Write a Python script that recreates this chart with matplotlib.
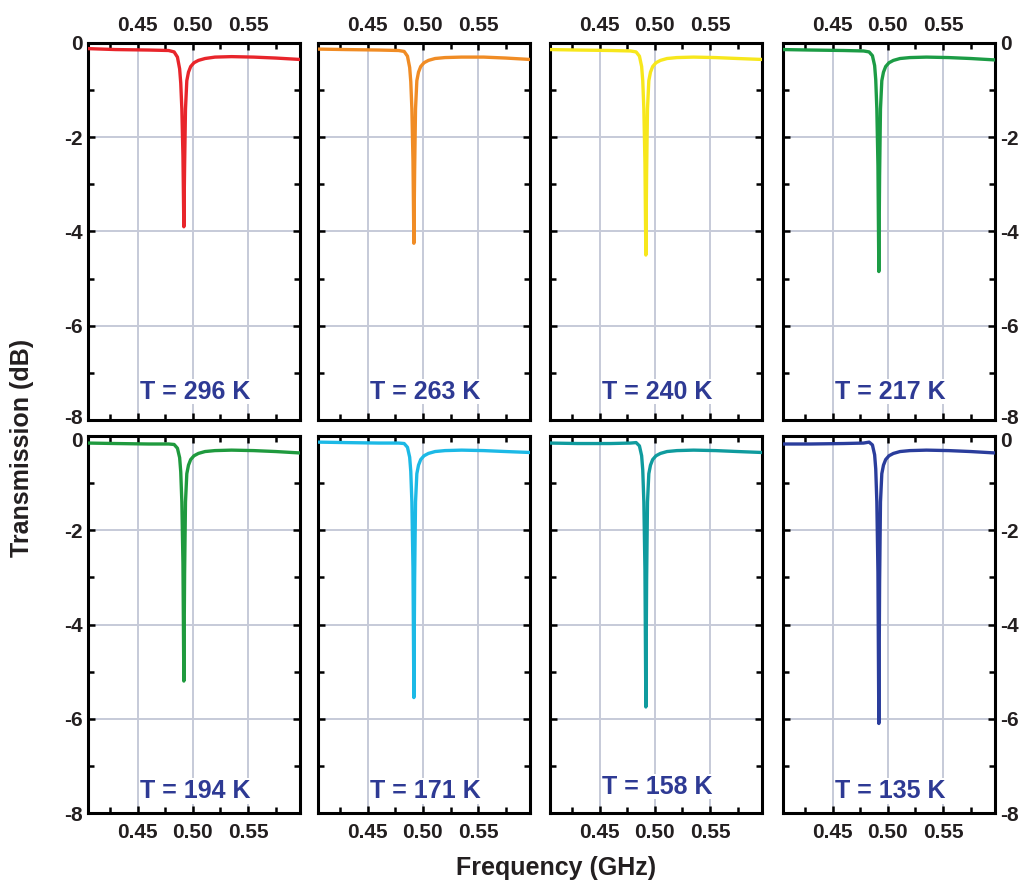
import numpy as np
import matplotlib
matplotlib.use("Agg")
import matplotlib.pyplot as plt
import matplotlib.transforms as mtransforms
from matplotlib.ticker import MultipleLocator

plt.rcParams['font.family'] = ['Liberation Sans', 'DejaVu Sans']
plt.rcParams['font.weight'] = 'bold'

# frequency grid (GHz) shared by all panels
freq = [0.405, 0.430, 0.460, 0.478, 0.483, 0.486, 0.488, 0.489, 0.490, 0.491,
        0.4918, 0.4925, 0.4933, 0.4945, 0.496, 0.498, 0.501, 0.505, 0.511,
        0.520, 0.535, 0.555, 0.575, 0.597]

# transmission (dB)
t296 = [-0.12, -0.14, -0.15, -0.16, -0.19, -0.30, -0.55, -0.85, -1.40, -2.40,
        -3.90, -2.60, -1.40, -0.80, -0.62, -0.50, -0.42, -0.37, -0.33, -0.30,
        -0.29, -0.30, -0.32, -0.35]
t263 = [-0.13, -0.14, -0.15, -0.16, -0.18, -0.28, -0.52, -0.82, -1.40, -2.50,
        -4.25, -2.70, -1.40, -0.80, -0.62, -0.50, -0.42, -0.37, -0.33, -0.31,
        -0.30, -0.30, -0.32, -0.35]
t240 = [-0.14, -0.15, -0.16, -0.17, -0.19, -0.28, -0.50, -0.80, -1.40, -2.55,
        -4.50, -2.75, -1.40, -0.80, -0.62, -0.50, -0.42, -0.37, -0.33, -0.31,
        -0.30, -0.31, -0.33, -0.35]
t217 = [-0.14, -0.15, -0.16, -0.17, -0.19, -0.27, -0.48, -0.78, -1.40, -2.60,
        -4.85, -2.80, -1.40, -0.80, -0.62, -0.50, -0.42, -0.37, -0.33, -0.31,
        -0.30, -0.31, -0.33, -0.36]
t194 = [-0.15, -0.16, -0.17, -0.17, -0.18, -0.26, -0.46, -0.76, -1.40, -2.70,
        -5.20, -2.90, -1.40, -0.80, -0.62, -0.50, -0.42, -0.37, -0.33, -0.31,
        -0.30, -0.31, -0.33, -0.36]
t171 = [-0.13, -0.14, -0.15, -0.15, -0.16, -0.24, -0.45, -0.75, -1.40, -2.80,
        -5.55, -3.00, -1.40, -0.80, -0.62, -0.50, -0.42, -0.37, -0.33, -0.31,
        -0.30, -0.31, -0.33, -0.35]
t158 = [-0.15, -0.16, -0.16, -0.15, -0.14, -0.21, -0.42, -0.72, -1.40, -2.85,
        -5.75, -3.05, -1.40, -0.80, -0.62, -0.50, -0.42, -0.37, -0.33, -0.31,
        -0.30, -0.31, -0.33, -0.35]
t135 = [-0.17, -0.17, -0.16, -0.15, -0.13, -0.19, -0.40, -0.70, -1.40, -2.90,
        -6.10, -3.10, -1.40, -0.80, -0.62, -0.50, -0.42, -0.37, -0.33, -0.31,
        -0.30, -0.31, -0.33, -0.36]

temps = [296, 263, 240, 217, 194, 171, 158, 135]
series = [t296, t263, t240, t217, t194, t171, t158, t135]
colors = ['#e8252b', '#f08c25', '#f7e71c', '#1c9c45',
          '#1f9a3e', '#1cb9e6', '#0f9b9e', '#2a3d9c']
xticks = [0.45, 0.50, 0.55]
yticks = [-8, -6, -4, -2, 0]

fig = plt.figure(figsize=(10.21, 8.84), dpi=100)

lefts = [0.0862, 0.3115, 0.5387, 0.7669]
bottoms = [0.5249, 0.0803]
label_y = [0.075, 0.058]
w, h = 0.2076, 0.4265

for i, (T, y, c) in enumerate(zip(temps, series, colors)):
    row, col = divmod(i, 4)
    ax = fig.add_axes([lefts[col], bottoms[row], w, h])
    ax.plot(freq, y, color=c, lw=2.4, solid_joinstyle='round', zorder=3)
    ax.set_xlim(0.405, 0.597)
    ax.set_ylim(-8, 0)
    ax.set_xticks(xticks)
    ax.set_xticklabels(['%.2f' % v for v in xticks])
    ax.set_yticks(yticks)
    ax.set_yticklabels([str(v) for v in yticks])
    ax.xaxis.set_minor_locator(MultipleLocator(0.025))
    ax.yaxis.set_minor_locator(MultipleLocator(1))
    ax.grid(True, which='major', color='#c6cad8', lw=1.4, zorder=0)
    for s in ax.spines.values():
        s.set_linewidth(2.2)
    ax.tick_params(which='both', direction='in', top=True, right=True,
                   width=1.8, length=5, labelsize=15, labelcolor='#231f20',
                   labelbottom=(row == 1), labeltop=(row == 0),
                   labelleft=(col == 0), labelright=(col == 3))
    ax.tick_params(axis='x', pad=6 if row == 0 else 7)
    ax.tick_params(axis='y', pad=4)
    ax.tick_params(which='minor', length=4)
    for lab in ax.get_xticklabels() + ax.get_yticklabels():
        lab.set_fontweight('bold')

    # keep the "-8" of the top row and the "0" of the bottom row apart
    if row == 0:
        shift = mtransforms.ScaledTranslation(0, 2.5 / 72, fig.dpi_scale_trans)
        for tk in ax.yaxis.get_major_ticks():
            if tk.get_loc() == -8:
                tk.label1.set_transform(tk.label1.get_transform() + shift)
                tk.label2.set_transform(tk.label2.get_transform() + shift)
    else:
        shift = mtransforms.ScaledTranslation(0, -2.5 / 72, fig.dpi_scale_trans)
        for tk in ax.yaxis.get_major_ticks():
            if tk.get_loc() == 0:
                tk.label1.set_transform(tk.label1.get_transform() + shift)
                tk.label2.set_transform(tk.label2.get_transform() + shift)

    ty = label_y[row] + (0.012 if T == 158 else 0)
    ax.text(0.505, ty, 'T = %d K' % T, transform=ax.transAxes,
            ha='center', va='center', fontsize=18, fontweight='bold',
            color='#2e3a94', zorder=4,
            bbox=dict(facecolor='white', edgecolor='none', pad=0.5))

fig.text(0.022, 0.493, 'Transmission (dB)', rotation=90, ha='center',
         va='center', fontsize=18, fontweight='bold', color='#231f20')
fig.text(0.545, 0.018, 'Frequency (GHz)', ha='center', va='center',
         fontsize=18, fontweight='bold', color='#231f20')

fig.savefig('out.png', dpi=100)
